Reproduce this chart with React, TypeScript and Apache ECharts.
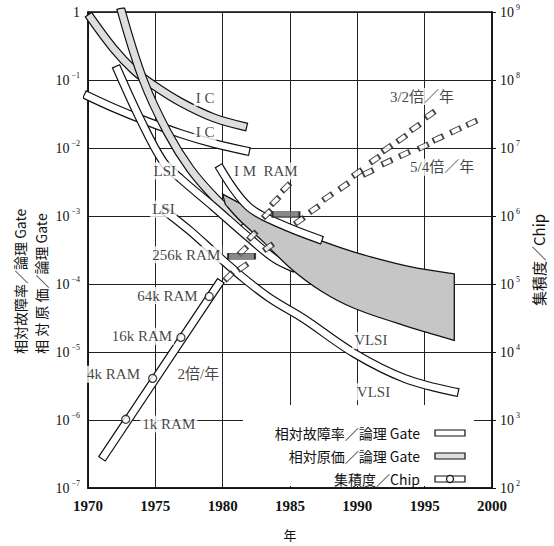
import React, { useEffect, useRef } from "react";
import * as echarts from "echarts";

const SERIF = "'Liberation Serif', 'DejaVu Serif', serif";
const CJK = "'Noto Sans CJK JP', 'Noto Sans CJK SC', sans-serif";

// ---- data (x: year, y: relative value on left axis / count on right axis) ----
const icPrice: [number, number][] = [
  [1970.2, 0.82], [1971.9, 0.29], [1973.4, 0.14], [1974.9, 0.083],
  [1976.9, 0.047], [1979.3, 0.028], [1981.5, 0.021],
];
const icFailure: [number, number][] = [
  [1970.0, 0.058], [1971.9, 0.039], [1974.4, 0.0245], [1976.9, 0.0162],
  [1979.3, 0.0117], [1981.7, 0.0091],
];
const lsiPrice: [number, number][] = [
  [1972.5, 1.0], [1974.1, 0.1], [1975.9, 0.017], [1977.6, 0.0049],
  [1979.5, 0.0018], [1981.3, 0.00085],
];
const lsiFailure: [number, number][] = [
  [1972.2, 0.141], [1973.9, 0.026], [1975.6, 0.0062], [1976.9, 0.0035],
  [1979.3, 0.00138], [1981.9, 0.00049], [1983.8, 0.00024], [1985.1, 0.000178],
];
const vlsiFailure: [number, number][] = [
  [1975.75, 0.00117], [1977.6, 0.0006], [1979.5, 0.000275], [1981.6, 0.00012],
  [1983.6, 0.00006], [1986.0, 0.000031], [1989.8, 0.0000095], [1993.5, 0.0000041],
  [1997.2, 0.0000026],
];
const mRamFailure: [number, number][] = [
  [1979.85, 0.0049], [1981.9, 0.00138], [1984.3, 0.00076], [1987.1, 0.00046],
];
const vlsiPriceUpper: [number, number][] = [
  [1980.0, 0.0021], [1982.1, 0.00126], [1983.6, 0.00089], [1986.0, 0.00054],
  [1988.8, 0.00034], [1991.0, 0.00025], [1994.0, 0.000178], [1997.2, 0.000141],
];
const vlsiPriceLower: [number, number][] = [
  [1980.2, 0.00148], [1981.3, 0.00085], [1983.0, 0.00042], [1985.1, 0.000166],
  [1987.3, 0.000079], [1989.8, 0.0000436], [1993.5, 0.0000245], [1997.2, 0.0000148],
];

// integration per chip (right axis)
const ramBand: [number, number][] = [[1971.2, 300], [1979.7, 100000]];
const ramPoints: [number, number][] = [
  [1972.8, 1024], [1974.8, 4096], [1976.9, 16384], [1979.0, 65536],
];
const densitySteep: [number, number][] = [
  [1980.45, 129000], [1981.5, 309000], [1982.2, 513000], [1983.3, 1070000],
  [1983.9, 1660000], [1984.7, 2630000],
];
const densitySlow: [number, number][] = [
  [1981.5, 178000], [1983.4, 347000], [1985.7, 851000], [1986.8, 1260000],
  [1987.8, 1900000], [1989.0, 2750000], [1990.0, 4270000],
];
const densityUpper: [number, number][] = [
  [1991.3, 6760000], [1992.2, 9800000], [1993.3, 13800000], [1994.3, 20000000],
  [1995.4, 30900000],
];
const densityLower: [number, number][] = [
  [1990.8, 4370000], [1992.2, 6170000], [1993.5, 8130000], [1994.9, 10500000],
  [1996.0, 13800000], [1997.3, 18200000], [1998.5, 23400000],
];
const ramMarkers: [number, number][] = [[1981.4, 256000], [1984.7, 1050000]];

const textLabels: { name: string; value: [number, number] }[] = [
  { name: "I C", value: [1978.7, 0.055] },
  { name: "I C", value: [1978.7, 0.017] },
  { name: "LSI", value: [1975.7, 0.0046] },
  { name: "LSI", value: [1975.6, 0.00126] },
  { name: "I M  RAM", value: [1983.2, 0.0046] },
  { name: "256k RAM", value: [1977.3, 0.00027] },
  { name: "64k RAM", value: [1975.9, 0.0000676] },
  { name: "16k RAM", value: [1974.0, 0.000017] },
  { name: "4k RAM", value: [1971.9, 0.0000047] },
  { name: "2倍/年", value: [1978.2, 0.0000047] },
  { name: "1k RAM", value: [1976.0, 0.00000087] },
  { name: "VLSI", value: [1991.0, 0.0000148] },
  { name: "VLSI", value: [1991.2, 0.0000026] },
  { name: "3/2倍／年", value: [1994.8, 0.057] },
  { name: "5/4倍／年", value: [1996.3, 0.0052] },
];

const xTicks = [1970, 1975, 1980, 1985, 1990, 1995, 2000];
const leftTitle1 = "相対故障率／論理 Gate";
const leftTitle2 = "相 対 原 価／論理 Gate";
const rightTitle = "集積度／Chip";
const xTitle = "年";
const legendItems = ["相対故障率／論理 Gate", "相対原価／論理 Gate", "集積度／Chip"];

const WHITE = "#ffffff";
const STIPPLE = "#dedede";
const GRAY = "#c6c6c6";

function band(data: [number, number][], fill: string, yAxisIndex = 0, z = 2) {
  return [
    {
      type: "line", data, yAxisIndex, smooth: 0.35, symbol: "none", z,
      lineStyle: { color: "#111", width: 9, cap: "square" }, silent: true,
    },
    {
      type: "line", data, yAxisIndex, smooth: 0.35, symbol: "none", z,
      lineStyle: { color: fill, width: 6.6, cap: "square" }, silent: true,
    },
  ];
}

// Catmull-Rom through screen points -> cubic bezier path segments
function curveThrough(pts: number[][], start: boolean) {
  let d = start ? `M${pts[0][0]},${pts[0][1]}` : `L${pts[0][0]},${pts[0][1]}`;
  for (let i = 0; i < pts.length - 1; i++) {
    const p0 = pts[Math.max(0, i - 1)];
    const p1 = pts[i];
    const p2 = pts[i + 1];
    const p3 = pts[Math.min(pts.length - 1, i + 2)];
    const c1 = [p1[0] + (p2[0] - p0[0]) / 6, p1[1] + (p2[1] - p0[1]) / 6];
    const c2 = [p2[0] - (p3[0] - p1[0]) / 6, p2[1] - (p3[1] - p1[1]) / 6];
    d += `C${c1[0]},${c1[1]} ${c2[0]},${c2[1]} ${p2[0]},${p2[1]}`;
  }
  return d;
}

function fmtLeft(v: number) {
  const e = Math.round(Math.log10(v));
  if (e === 0) return "{b|1}";
  return `{b|10}{s|−${-e}}`;
}
function fmtRight(v: number) {
  const e = Math.round(Math.log10(v));
  return `{b|10}{s|${e}}`;
}

const rich = {
  b: { fontFamily: SERIF, fontSize: 14, color: "#111" },
  s: { fontFamily: SERIF, fontSize: 8, color: "#111", padding: [0, 0, 9, 2] },
};

export default function App() {
  const ref = useRef<HTMLDivElement>(null);
  useEffect(() => {
    document.body.style.margin = "0";
    if (!ref.current) return;
    const chart = echarts.init(ref.current, undefined, { renderer: "svg" });

    const grayPoly = {
      type: "custom",
      yAxisIndex: 0,
      data: vlsiPriceUpper,
      z: 3,
      clip: true,
      silent: true,
      renderItem: (params: any, api: any) => {
        if (params.dataIndex !== 0) return null;
        const up = vlsiPriceUpper.map((p) => api.coord(p));
        const lo = vlsiPriceLower.slice().reverse().map((p) => api.coord(p));
        const d = curveThrough(up, true) + curveThrough(lo, false) + "Z";
        return {
          type: "path",
          shape: { pathData: d },
          style: { fill: GRAY, stroke: "#111", lineWidth: 1.3 },
        };
      },
    };

    const rectSym = (data: [number, number][], rot: number) => ({
      type: "scatter", yAxisIndex: 1, data, symbol: "rect", symbolSize: [10, 5],
      symbolRotate: rot, z: 6, silent: true,
      itemStyle: { color: WHITE, borderColor: "#111", borderWidth: 1.3 },
    });

    const option: any = {
      animation: false,
      backgroundColor: "#fff",
      grid: { left: 88, right: 62, top: 12, bottom: 56, show: true, borderColor: "#111", borderWidth: 1.5 },
      xAxis: {
        type: "value", min: 1970, max: 2000, interval: 5,
        name: xTitle, nameLocation: "middle", nameGap: 40,
        nameTextStyle: { fontFamily: CJK, fontSize: 13, color: "#111" },
        axisLine: { show: true, lineStyle: { color: "#111", width: 1.5 } },
        axisTick: { show: false },
        axisLabel: { fontFamily: SERIF, fontSize: 15, fontWeight: "bold", color: "#111", margin: 10,
          formatter: (v: number) => (xTicks.includes(v) ? String(v) : "") },
        splitLine: { show: true, lineStyle: { color: "#222", width: 1 } },
      },
      yAxis: [
        {
          type: "log", logBase: 10, min: 1e-7, max: 1,
          axisLine: { show: true, lineStyle: { color: "#111", width: 1.5 } },
          axisTick: { show: false },
          axisLabel: { formatter: fmtLeft, rich, margin: 8 },
          splitLine: { show: true, lineStyle: { color: "#222", width: 1 } },
        },
        {
          type: "log", logBase: 10, min: 1e2, max: 1e9, position: "right",
          axisLine: { show: true, lineStyle: { color: "#111", width: 1.5 } },
          axisTick: { show: true, inside: false, length: 4, lineStyle: { color: "#111" } },
          axisLabel: { formatter: fmtRight, rich, margin: 8 },
          splitLine: { show: false },
        },
      ],
      graphic: [
        { type: "rect", z: 1, shape: { x: 243, y: 405, width: 231, height: 81 }, style: { fill: "#fff" } },
        {
          type: "text", z: 10, x: 20, y: 354, rotation: Math.PI / 2,
          style: { text: leftTitle1, font: `14px ${CJK}`, fill: "#111", align: "left", verticalAlign: "middle" },
        },
        {
          type: "text", z: 10, x: 41, y: 354, rotation: Math.PI / 2,
          style: { text: leftTitle2, font: `14px ${CJK}`, fill: "#111", align: "left", verticalAlign: "middle" },
        },
        {
          type: "text", z: 10, x: 538, y: 306, rotation: Math.PI / 2,
          style: { text: rightTitle, font: `15px ${CJK}`, fill: "#111", align: "left", verticalAlign: "middle" },
        },
        ...legendItems.map((t, i) => ({
          type: "text", z: 10, x: 420, y: 433 + i * 23,
          style: { text: t, font: `14px ${CJK}`, fill: "#111", align: "right", verticalAlign: "middle" },
        })),
        { type: "rect", z: 10, shape: { x: 435, y: 430, width: 30, height: 6 }, style: { fill: WHITE, stroke: "#111", lineWidth: 1.2 } },
        { type: "rect", z: 10, shape: { x: 435, y: 453, width: 30, height: 6 }, style: { fill: STIPPLE, stroke: "#111", lineWidth: 1.2 } },
        { type: "rect", z: 10, shape: { x: 435, y: 476, width: 30, height: 6 }, style: { fill: WHITE, stroke: "#111", lineWidth: 1.2 } },
        { type: "circle", z: 11, shape: { cx: 450, cy: 479, r: 3.5 }, style: { fill: WHITE, stroke: "#111", lineWidth: 1.2 } },
      ],
      series: [
        ...band(icPrice, STIPPLE),
        ...band(icFailure, WHITE),
        ...band(lsiPrice, STIPPLE),
        ...band(lsiFailure, WHITE),
        ...band(vlsiFailure, WHITE),
        grayPoly,
        ...band(mRamFailure, WHITE, 0, 4),
        ...band(ramBand, WHITE, 1, 5),
        {
          type: "scatter", yAxisIndex: 1, data: ramPoints, symbol: "circle", symbolSize: 8, z: 6, silent: true,
          itemStyle: { color: WHITE, borderColor: "#111", borderWidth: 1.3 },
        },
        rectSym(densitySteep, 45),
        rectSym(densitySlow, 35),
        rectSym(densityUpper, 35),
        rectSym(densityLower, 25),
        {
          type: "scatter", yAxisIndex: 1, data: ramMarkers, symbol: "rect", symbolSize: [27, 6], z: 7, silent: true,
          itemStyle: { color: "#6a6a6a", borderColor: "#111", borderWidth: 1 },
        },
        {
          type: "scatter", yAxisIndex: 0, data: textLabels, symbolSize: 0, z: 8, silent: true,
          label: {
            show: true, position: "inside", formatter: (p: any) => p.name,
            fontFamily: `${SERIF}, ${CJK}`, fontSize: 15, color: "#111",
            backgroundColor: "#fff", padding: [1, 2],
          },
        },
      ],
    };
    chart.setOption(option);
    return () => chart.dispose();
  }, []);
  return <div ref={ref} style={{ width: 554, height: 546 }} />;
}
